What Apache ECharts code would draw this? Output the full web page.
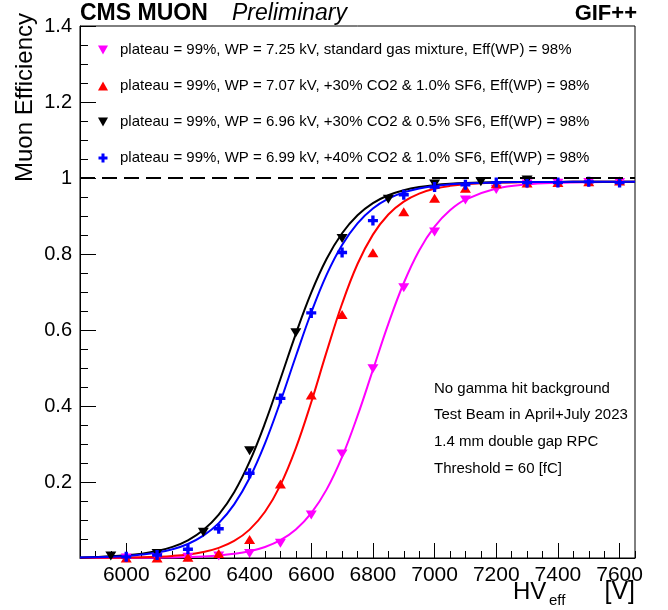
<!DOCTYPE html>
<html><head><meta charset="utf-8">
<script src="https://cdn.jsdelivr.net/npm/echarts@6/dist/echarts.min.js"></script>
<style>html,body{margin:0;padding:0;background:#fff}#c{width:668px;height:610px}</style>
</head><body><div id="c"></div>
<script>
// ---- data ----
const legendNames = [
  'plateau = 99%, WP = 7.25 kV, standard gas mixture, Eff(WP) = 98%',
  'plateau = 99%, WP = 7.07 kV, +30% CO2 & 1.0% SF6, Eff(WP) = 98%',
  'plateau = 99%, WP = 6.96 kV, +30% CO2 & 0.5% SF6, Eff(WP) = 98%',
  'plateau = 99%, WP = 6.99 kV, +40% CO2 & 1.0% SF6, Eff(WP) = 98%'
];
const stdX = [6000,6100,6200,6300,6400,6500,6600,6700,6800,6900,7000,7100,7200,7300,7400,7500,7600];
const stdY = [0.000,0.001,0.002,0.005,0.012,0.039,0.113,0.274,0.498,0.711,0.858,0.942,0.970,0.984,0.986,0.988,0.988];
const co2s10X = [6000,6100,6200,6300,6400,6500,6600,6700,6800,6900,7000,7100,7200,7300,7400,7500,7600];
const co2s10Y = [0.000,0.000,0.002,0.012,0.049,0.195,0.429,0.641,0.803,0.911,0.947,0.973,0.985,0.987,0.988,0.990,0.992];
const co2s05X = [5950,6100,6250,6400,6550,6700,6850,7000,7150,7300];
const co2s05Y = [0.005,0.012,0.068,0.282,0.593,0.841,0.944,0.984,0.990,0.995];
const co40X = [6000,6100,6200,6300,6400,6500,6600,6700,6800,6900,7000,7100,7200,7300,7400,7500,7600];
const co40Y = [0.003,0.008,0.023,0.077,0.223,0.420,0.645,0.804,0.888,0.956,0.976,0.982,0.988,0.988,0.988,0.990,0.988];

// fit curves
const fitX = [5850,5900,5950,6000,6050,6100,6150,6200,6250,6300,6350,6400,6450,6500,6550,6600,6650,6700,6750,6800,6850,6900,6950,7000,7050,7100,7200,7300,7400,7500,7650];
const fitStd = [0.0001,0.0001,0.0002,0.0003,0.0005,0.0009,0.0015,0.0025,0.0040,0.0066,0.0109,0.0178,0.0290,0.0469,0.0751,0.1180,0.1806,0.2661,0.3738,0.4950,0.6162,0.7237,0.8094,0.8720,0.9149,0.9430,0.9722,0.9834,0.9875,0.9891,0.9898];
const fitCo2s10 = [0.0002,0.0004,0.0006,0.0011,0.0018,0.0032,0.0054,0.0092,0.0157,0.0267,0.0449,0.0747,0.1216,0.1918,0.2890,0.4100,0.5430,0.6690,0.7736,0.8510,0.9040,0.9380,0.9590,0.9717,0.9793,0.9837,0.9879,0.9893,0.9897,0.9899,0.9900];
const fitCo2s05 = [0.0016,0.0027,0.0043,0.0070,0.0113,0.0182,0.0292,0.0466,0.0736,0.1142,0.1730,0.2534,0.3548,0.4710,0.5899,0.6983,0.7874,0.8546,0.9020,0.9340,0.9547,0.9679,0.9763,0.9815,0.9848,0.9868,0.9888,0.9895,0.9898,0.9899,0.9900];
const fitCo40 = [0.0013,0.0021,0.0034,0.0055,0.0089,0.0143,0.0231,0.0369,0.0587,0.0918,0.1411,0.2104,0.3018,0.4117,0.5309,0.6460,0.7457,0.8237,0.8806,0.9196,0.9455,0.9621,0.9726,0.9792,0.9833,0.9859,0.9884,0.9893,0.9897,0.9899,0.9900];

const xTickLabels = [6000,6200,6400,6600,6800,7000,7200,7400,7600];
const yTickLabels = [0.2,0.4,0.6,0.8,1,1.2,1.4];
const noteLines = ['No gamma hit background','Test Beam in April+July 2023','1.4 mm double gap RPC','Threshold = 60 [fC]'];

// ---- styling ----
const FONT = "'Liberation Sans', Arial, sans-serif";
const colors = ['#ff00ff','#ff0000','#000000','#0000ff'];
const crossPath = 'path://M3,0H6V3H9V6H6V9H3V6H0V3H3Z';
const downTri = 'path://M0,0L10,0L5,9Z';
const upTri = 'path://M5,0L10,9L0,9Z';
const symbols = [downTri, upTri, downTri, crossPath];
const sizes = [[11,10],[11,10],[11,10],[10,10]];
const ptsX = [stdX,co2s10X,co2s05X,co40X];
const ptsY = [stdY,co2s10Y,co2s05Y,co40Y];
const fits = [fitStd,fitCo2s10,fitCo2s05,fitCo40];

const xMinor = [];
for (let v = 5900; v <= 7650; v += 50) xMinor.push(v);

const series = [];
fits.forEach((f,i) => {
  const s = {
    type:'line', name:'fit'+i, xAxisIndex:0, yAxisIndex:0,
    data: fitX.map((x,j)=>[x,f[j]]),
    smooth:0.4, symbol:'none', silent:true, z:2,
    lineStyle:{color:colors[i], width:2}
  };
  if (i===0) s.markLine = {
    silent:true, symbol:['none','none'], label:{show:false},
    lineStyle:{color:'#000', type:[15,7], width:2},
    data:[{yAxis:1}]
  };
  series.push(s);
});
ptsX.forEach((xs,i) => {
  series.push({
    type:'scatter', name:legendNames[i], xAxisIndex:0, yAxisIndex:0,
    data: xs.map((x,j)=>[x, ptsY[i][j]]),
    symbol:symbols[i], symbolSize:sizes[i], symbolKeepAspect:true,
    itemStyle:{color:colors[i], opacity:1}, z:3
  });
});

const graphic = [
  {type:'text', x:80, y:14, style:{text:'CMS MUON', font:'bold 23px '+FONT, fill:'#000', verticalAlign:'middle', align:'left'}},
  {type:'text', x:232, y:14, style:{text:'Preliminary', font:'italic 23px '+FONT, fill:'#000', verticalAlign:'middle', align:'left'}},
  {type:'text', x:637, y:14, style:{text:'GIF++', font:'bold 22px '+FONT, fill:'#000', verticalAlign:'middle', align:'right'}},
  {type:'text', x:25, y:13, rotation:Math.PI/2, style:{text:'Muon Efficiency', font:'24px '+FONT, fill:'#000', verticalAlign:'middle', align:'right'}},
  {type:'text', x:513, y:592, style:{text:'HV', font:'24px '+FONT, fill:'#000', verticalAlign:'middle', align:'left'}},
  {type:'text', x:549, y:601, style:{text:'eff', font:'15px '+FONT, fill:'#000', verticalAlign:'middle', align:'left'}},
  {type:'text', x:635, y:592, style:{text:'[V]', font:'25px '+FONT, fill:'#000', verticalAlign:'middle', align:'right'}}
];
const noteY = [389,415,442,469];
noteLines.forEach((t,i)=>graphic.push({type:'text', x:434, y:noteY[i], style:{text:t, font:'15px '+FONT, fill:'#000', verticalAlign:'middle', align:'left'}}));

const option = {
  animation:false,
  backgroundColor:'#fff',
  grid:{left:80, right:33, top:26, bottom:52, show:true, borderColor:'#000', borderWidth:1, backgroundColor:'transparent'},
  legend:{
    orient:'vertical', left:93, top:37, itemWidth:10, itemHeight:9, itemGap:20,
    data:legendNames.map((n,i)=>({name:n, icon:symbols[i], itemStyle:{color:colors[i], opacity:1}})),
    selectedMode:false,
    textStyle:{fontFamily:FONT, fontSize:15, color:'#000', lineHeight:16, padding:[0,0,0,7]}
  },
  xAxis:[
    {type:'value', min:5850, max:7650, position:'bottom',
     axisLine:{show:true, lineStyle:{color:'#000', width:1}},
     axisTick:{show:true, inside:true, length:15, customValues:xTickLabels, lineStyle:{color:'#000'}},
     axisLabel:{show:true, customValues:xTickLabels, fontFamily:FONT, fontSize:21, color:'#000', margin:7,
       formatter:v => String(Math.round(v))},
     splitLine:{show:false}},
    {type:'value', min:5850, max:7650, position:'bottom',
     axisLine:{show:false},
     axisTick:{show:true, inside:true, length:7, customValues:xMinor, lineStyle:{color:'#000'}},
     axisLabel:{show:false}, splitLine:{show:false}}
  ],
  yAxis:{type:'value', min:0, max:1.4, interval:0.2,
    axisLine:{show:true, lineStyle:{color:'#000', width:1}},
    axisTick:{show:true, inside:true, length:16, lineStyle:{color:'#000'}},
    minorTick:{show:true, splitNumber:4, length:8, lineStyle:{color:'#000'}},
    axisLabel:{fontFamily:FONT, fontSize:20, color:'#000', margin:8,
      formatter:v => (Math.abs(v) < 1e-9 ? '' : (yTickLabels.includes(+v.toFixed(1)) ? (Math.abs(v-1)<1e-9 ? '1' : v.toFixed(1)) : ''))},
    splitLine:{show:false}},
  series:series,
  graphic:graphic
};
const chart = echarts.init(document.getElementById('c'));
chart.setOption(option);
</script></body></html>
